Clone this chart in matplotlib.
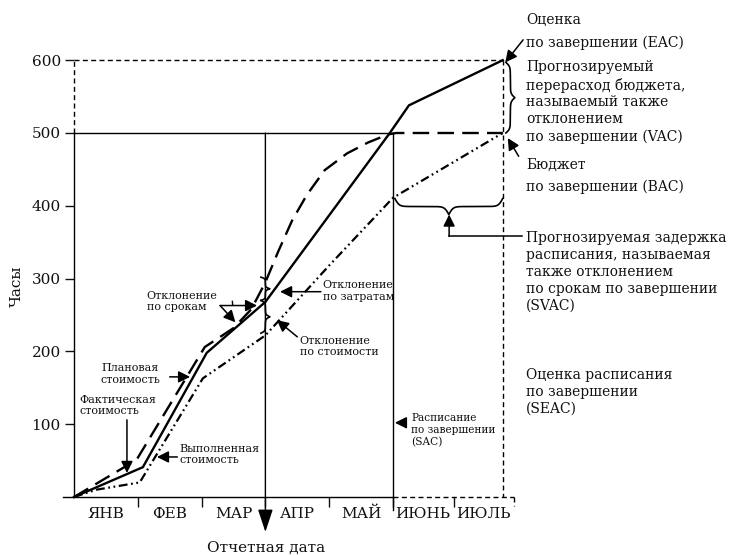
import numpy as np
import matplotlib.pyplot as plt
from matplotlib.patches import Arc

plt.rcParams.update({
    "font.family": "DejaVu Serif",
    "font.size": 11,
    "text.color": "#111111",
    "axes.labelcolor": "#111111",
    "xtick.color": "#111111",
    "ytick.color": "#111111",
})

# ---------------------------------------------------------------------------
# data (x in months from project start, y in hours)
# ---------------------------------------------------------------------------
months = ["ЯНВ", "ФЕВ", "МАР", "АПР", "МАЙ", "ИЮНЬ", "ИЮЛЬ"]
month_edges = [1, 2, 3, 4, 5, 5.95]
month_centers = [0.5, 1.5, 2.5, 3.5, 4.5, 5.47, 6.42]
yticks = [100, 200, 300, 400, 500, 600]

# planned value (dashed)
pv_x = [0, 0.98, 2.05, 2.5, 2.78, 3.0, 3.2, 3.42, 3.65, 3.93, 4.28, 4.61, 4.92, 5.05, 6.72]
pv_y = [0, 51, 206, 232, 258, 295, 337, 380, 415, 449, 472, 487, 498, 500, 500]
# actual cost (solid)
ac_x = [0, 1.08, 2.08, 3.0, 4.95, 5.25, 6.72]
ac_y = [0, 41, 198, 268, 500, 538, 600]
# earned value (dash-dot-dot)
ev_x = [0, 0.35, 1.03, 2.02, 3.0, 4.0, 5.0, 6.72]
ev_y = [0, 10, 20, 163, 222, 318, 411, 500]

report_date = 3.0
sac = 5.0
seac = 6.72
bac = 500
eac = 600

W, H = 734, 556
fig = plt.figure(figsize=(W / 100, H / 100), dpi=100)
ax = fig.add_axes([74 / W, 59 / H, 440.2 / W, 436.8 / H])
ax.set_xlim(0, 6.9)
ax.set_ylim(0, 600)
for s in ax.spines.values():
    s.set_visible(False)

K = "black"
thin = dict(color=K, lw=1.0, clip_on=False)
dash_thin = dict(color=K, lw=1.0, dashes=(3.6, 2.4), clip_on=False)

# frame / axes lines
ax.plot([0, 0], [0, bac], **thin)
ax.plot([0, 0], [bac, eac], **dash_thin)
ax.plot([-0.17, sac], [0, 0], **thin)
ax.plot([sac, 6.9], [0, 0], **dash_thin)
ax.plot([6.9, 6.9], [0, -12], **dash_thin)
ax.plot([0, seac], [eac, eac], **dash_thin)
ax.plot([seac, seac], [eac, 0], **dash_thin)
ax.plot([0, sac], [bac, bac], **thin)
ax.plot([sac, sac], [bac, -18], **thin)

# ticks
ax.set_yticks(yticks)
ax.tick_params(axis="y", direction="out", length=6.5, width=1, pad=3, labelsize=11)
ax.set_xticks(month_edges)
ax.set_xticklabels([])
ax.set_xticks(month_centers, minor=True)
ax.set_xticklabels(months, minor=True)
ax.tick_params(axis="x", which="major", direction="out", length=7, width=1)
ax.tick_params(axis="x", which="minor", length=0, pad=7, labelsize=11)

ax.set_ylabel("Часы", fontsize=11)
ax.yaxis.set_label_coords(-0.115, 0.483)
ax.set_xlabel("Отчетная дата", fontsize=11)
ax.xaxis.set_label_coords(0.436, -0.1)

# curves
ax.plot(ac_x, ac_y, color=K, lw=1.7, solid_joinstyle="miter", clip_on=False, zorder=4)
ax.plot(pv_x, pv_y, color=K, lw=1.7, dashes=(7, 3.5), clip_on=False, zorder=4)
ax.plot(ev_x, ev_y, color=K, lw=1.6, dashes=(4, 1.6, 0.8, 1.6, 0.8, 1.6),
        clip_on=False, zorder=4)

arrow = dict(arrowstyle="-|>,head_length=0.5,head_width=0.25", color=K, lw=1.1,
             shrinkA=0, shrinkB=0, mutation_scale=14)

# reporting date arrow
ax.annotate("", xy=(report_date, -48), xytext=(report_date, bac),
            arrowprops=dict(arrow, arrowstyle="-|>,head_length=1.0,head_width=0.33", lw=1.0),
            annotation_clip=False)


def brace(x0, x1, base, depth, vertical=False, beta=40):
    t = np.linspace(0, 0.5, 101)
    f = 1 / (1 + np.exp(-beta * t)) + 1 / (1 + np.exp(-beta * (t - 0.5))) - 0.5
    f = np.concatenate([f, f[::-1][1:]])
    along = np.linspace(x0, x1, len(f))
    off = base + depth * f
    if vertical:
        ax.plot(off, along, color=K, lw=1.2, clip_on=False)
    else:
        ax.plot(along, off, color=K, lw=1.2, clip_on=False)


small = dict(fontsize=8, va="center", ha="left", linespacing=1.15)

# left-side annotations
ax.text(0.09, 126, "Фактическая\nстоимость", **small)
ax.annotate("", xy=(0.83, 33), xytext=(0.83, 106), arrowprops=arrow)

ax.text(0.88, 169, "Плановая\nстоимость", fontsize=8, va="center", ha="center", linespacing=1.15)
ax.annotate("", xy=(1.82, 165), xytext=(1.5, 165), arrowprops=arrow)

ax.text(1.66, 58, "Выполненная\nстоимость", **small)
ax.annotate("", xy=(1.30, 55), xytext=(1.62, 55), arrowprops=arrow)

ax.text(1.14, 269, "Отклонение\nпо срокам", **small)
ax.annotate("", xy=(2.87, 263), xytext=(2.29, 263), arrowprops=arrow)
ax.annotate("", xy=(2.53, 240), xytext=(2.29, 263), arrowprops=arrow)
ax.add_patch(Arc((report_date, 270), width=2 * 33 / 63.8, height=2 * 33 / 0.728,
                 theta1=210, theta2=266, color=K, lw=1.0))

brace(302, 270, 2.93, 0.14, vertical=True, beta=30)
brace(270, 225, 2.93, 0.14, vertical=True, beta=30)
ax.text(3.9, 283, "Отклонение\nпо затратам", **small)
ax.annotate("", xy=(3.23, 282), xytext=(3.87, 282), arrowprops=arrow)
ax.text(3.54, 207, "Отклонение\nпо стоимости", **small)
ax.annotate("", xy=(3.18, 243), xytext=(3.5, 220), arrowprops=arrow)

ax.text(5.29, 92, "Расписание\nпо завершении\n(SAC)", fontsize=7.6, va="center",
        ha="left", linespacing=1.2)
ax.annotate("", xy=(5.03, 102), xytext=(5.2, 102), arrowprops=arrow)

# right-side annotations
ax.annotate("", xy=(6.76, 597), xytext=(7.04, 628), arrowprops=arrow, annotation_clip=False)
brace(597, 500, 6.77, 0.14, vertical=True, beta=35)
ax.annotate("", xy=(6.8, 493), xytext=(6.97, 468), arrowprops=arrow, annotation_clip=False)
brace(5.03, 6.72, 410, -22, beta=50)
ax.plot([7.02, 5.88], [358, 358], color=K, lw=1.1, clip_on=False)
ax.annotate("", xy=(5.88, 388), xytext=(5.88, 358), arrowprops=arrow, annotation_clip=False)


def ftext(px, py, s, **kw):
    fig.text(px / W, 1 - py / H, s, fontsize=10, va="center", ha="left",
             linespacing=1.26, **kw)


ftext(526, 20, "Оценка")
ftext(526, 43, "по завершении (EAC)")
ftext(526, 102, "Прогнозируемый\nперерасход бюджета,\nназываемый также\nотклонением\nпо завершении (VAC)")
ftext(526, 165, "Бюджет")
ftext(526, 187, "по завершении (BAC)")
ftext(526, 272, "Прогнозируемая задержка\nрасписания, называемая\nтакже отклонением\nпо срокам по завершении\n(SVAC)")
ftext(526, 392, "Оценка расписания\nпо завершении\n(SEAC)")

fig.savefig("out.png", dpi=100)
